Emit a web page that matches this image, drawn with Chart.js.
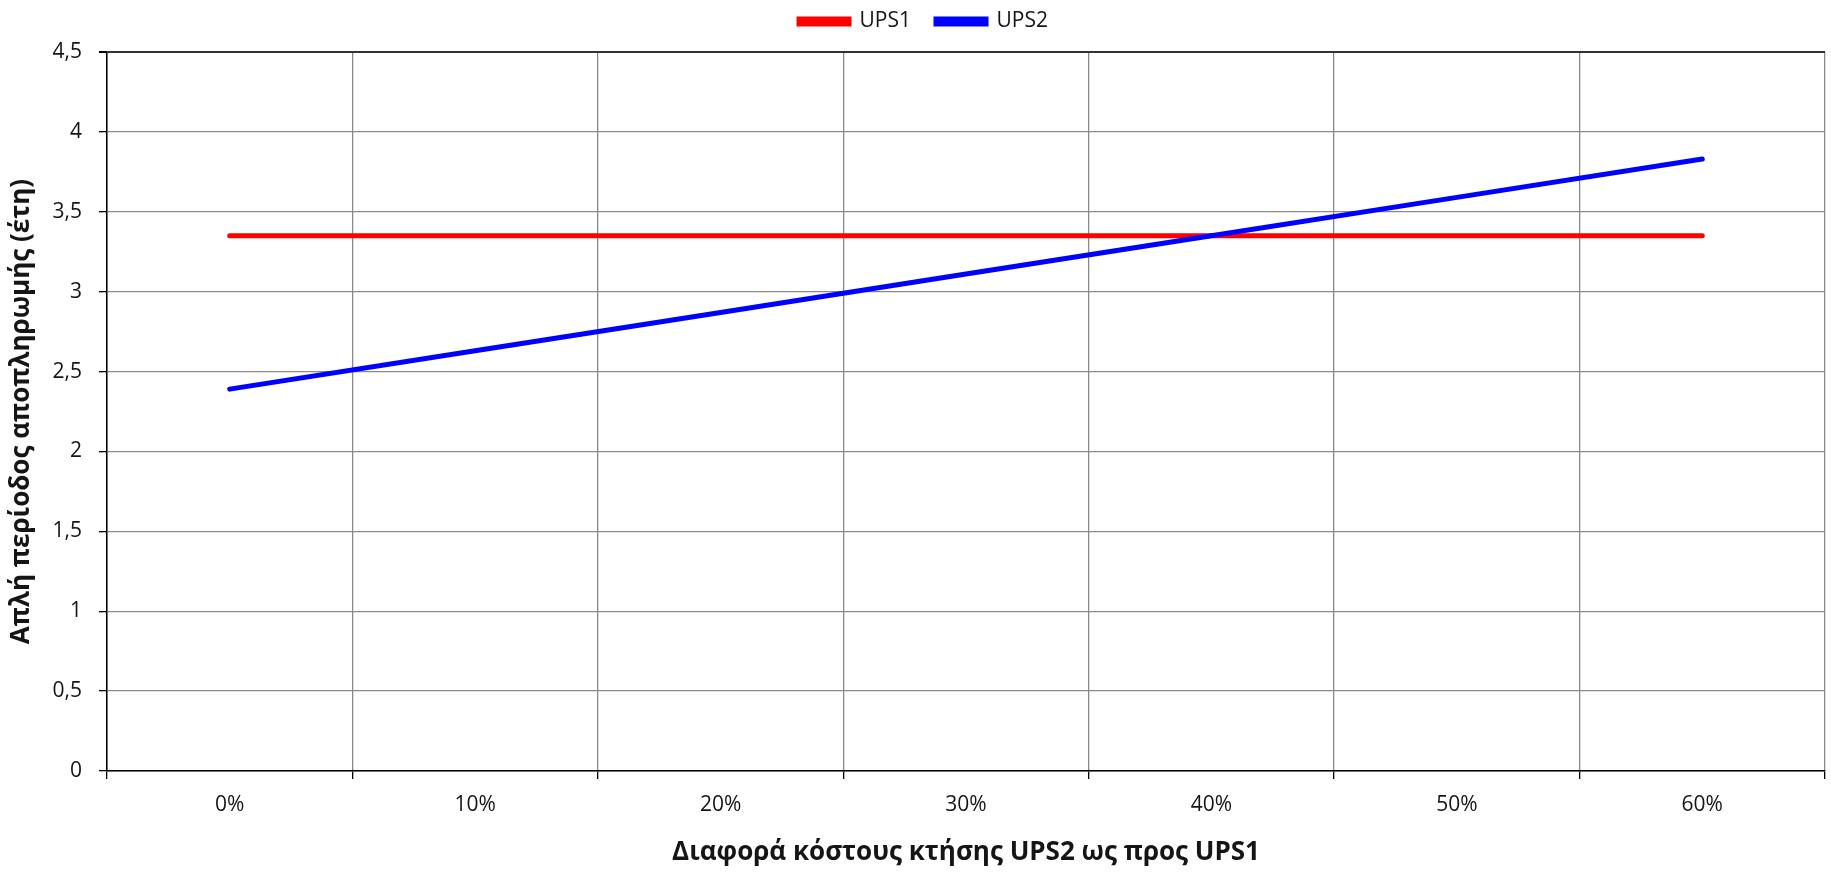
<!DOCTYPE html>
<html>
<head>
<meta charset="utf-8">
<script src="https://cdn.jsdelivr.net/npm/chart.js@4/dist/chart.umd.min.js"></script>
<style>
  html, body { margin: 0; padding: 0; background: #ffffff; }
  #wrap { width: 1831px; height: 872px; position: relative; }
</style>
</head>
<body>
<div id="wrap"><canvas id="c"></canvas></div>
<script>
// Acquisition cost difference of UPS2 relative to UPS1
const categories = ['0%', '10%', '20%', '30%', '40%', '50%', '60%'];
// Simple payback period (years)
const ups1Values = [3.35, 3.35, 3.35, 3.35, 3.35, 3.35, 3.35];
const ups2Values = [2.39, 2.63, 2.87, 3.11, 3.35, 3.59, 3.83];
const yTicks = [0, 0.5, 1, 1.5, 2, 2.5, 3, 3.5, 4, 4.5];

const FONT = "'Open Sans', 'Noto Sans', sans-serif";
const GRID = '#8a8a8a';
const TEXT = '#151515';

// fixes the legend band height and nudges the legend row into place
const legendPlacement = {
  id: 'legendPlacement',
  afterInit(chart) {
    const lg = chart.legend;
    if (!lg) return;
    const fit = lg.fit.bind(lg);
    lg.fit = function () { fit(); this.height = 66; };
  },
  afterLayout(chart) {
    const lg = chart.legend;
    if (!lg) return;
    lg.left += 11;
    lg.right += 11;
  }
};

new Chart(document.getElementById('c'), {
  type: 'line',
  data: {
    labels: categories,
    datasets: [
      {
        label: 'UPS1',
        data: ups1Values,
        borderColor: '#ff0000',
        backgroundColor: '#ff0000',
        borderWidth: 5,
        borderCapStyle: 'round',
        pointRadius: 0,
        tension: 0,
        order: 1
      },
      {
        label: 'UPS2',
        data: ups2Values,
        borderColor: '#0000ff',
        backgroundColor: '#0000ff',
        borderWidth: 5,
        borderCapStyle: 'round',
        pointRadius: 0,
        tension: 0,
        order: 0
      }
    ]
  },
  plugins: [legendPlacement],
  options: {
    responsive: true,
    maintainAspectRatio: false,
    animation: false,
    layout: { padding: { left: 0, right: 6, top: -14, bottom: 0 } },
    plugins: {
      tooltip: { enabled: false },
      legend: {
        position: 'top',
        labels: {
          color: TEXT,
          font: { family: FONT, size: 21 },
          boxWidth: 50,
          boxHeight: 5,
          padding: 25,
          sort: (a, b) => a.datasetIndex - b.datasetIndex
        }
      }
    },
    scales: {
      x: {
        type: 'category',
        offset: true,
        grid: {
          offset: true,
          color: GRID,
          lineWidth: 1.3,
          tickColor: '#000',
          tickLength: 8,
          drawTicks: true
        },
        border: { color: '#000', width: 1.5 },
        ticks: {
          color: TEXT,
          font: { family: FONT, size: 21 },
          padding: 13,
          maxRotation: 0
        },
        title: {
          display: true,
          text: 'Διαφορά κόστους κτήσης UPS2 ως προς UPS1',
          color: TEXT,
          font: { family: FONT, size: 26, weight: 'bold' },
          padding: { top: 4, bottom: 4 }
        },
        afterFit(scale) { scale.height = 101; }
      },
      y: {
        min: 0,
        max: 4.5,
        afterBuildTicks(scale) { scale.ticks = yTicks.map(v => ({ value: v })); },
        grid: {
          color: ctx => (ctx.tick && ctx.tick.value === 4.5 ? '#333' : GRID),
          lineWidth: ctx => (ctx.tick && ctx.tick.value === 4.5 ? 2 : 1.3),
          tickColor: '#000',
          tickLength: 8
        },
        border: { color: '#000', width: 1.5 },
        ticks: {
          color: TEXT,
          font: { family: FONT, size: 21 },
          padding: 17,
          callback: v => String(v).replace('.', ',')
        },
        title: {
          display: true,
          text: 'Απλή περίοδος αποπληρωμής (έτη)',
          color: TEXT,
          font: { family: FONT, size: 26, weight: 'bold' },
          padding: { top: 6, bottom: 0 }
        },
        afterFit(scale) { scale.width = 107; }
      }
    }
  }
});
</script>
</body>
</html>
